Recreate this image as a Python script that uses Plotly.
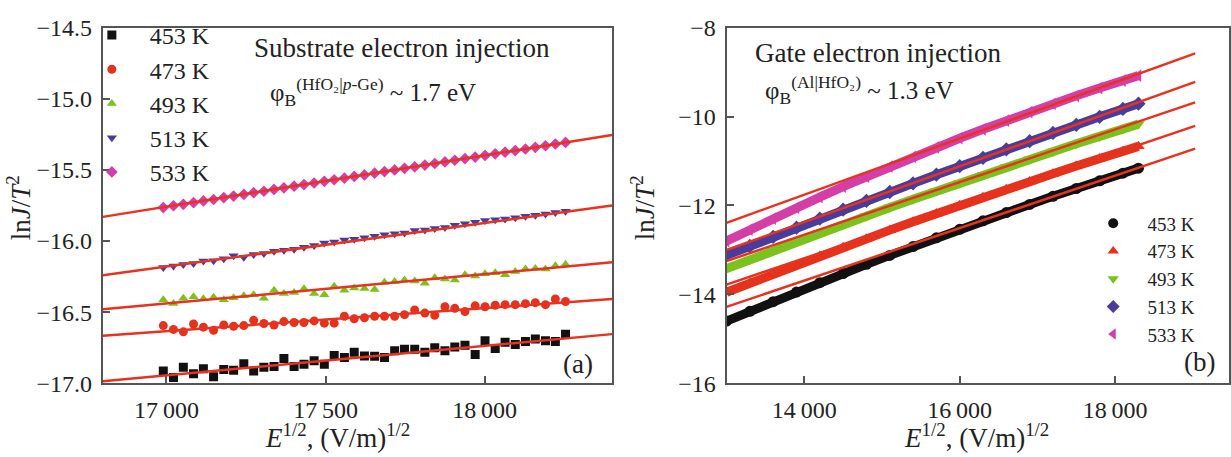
import plotly.graph_objects as go

W, H = 1231, 457

# ---------------- Panel (a): substrate electron injection ----------------
temps = ["453 K", "473 K", "493 K", "513 K", "533 K"]

left_x = [16990, 17022, 17053, 17085, 17116, 17148, 17180, 17211, 17243, 17274,
          17306, 17338, 17369, 17401, 17432, 17464, 17496, 17527, 17559, 17590,
          17622, 17654, 17685, 17717, 17748, 17780, 17812, 17843, 17875, 17906,
          17938, 17970, 18001, 18033, 18064, 18096, 18128, 18159, 18191, 18222, 18254]

left_453 = [-16.914, -16.958, -16.887, -16.932, -16.898, -16.954, -16.903, -16.907, -16.863, -16.914,
            -16.887, -16.881, -16.826, -16.881, -16.866, -16.841, -16.866, -16.804, -16.819, -16.782,
            -16.808, -16.810, -16.819, -16.771, -16.760, -16.760, -16.782, -16.749, -16.771, -16.744,
            -16.733, -16.797, -16.700, -16.755, -16.711, -16.727, -16.705, -16.689, -16.700, -16.705, -16.654]
left_473 = [-16.594, -16.621, -16.638, -16.583, -16.605, -16.627, -16.590, -16.599, -16.594, -16.557,
            -16.579, -16.590, -16.566, -16.572, -16.572, -16.561, -16.577, -16.577, -16.528, -16.546,
            -16.539, -16.528, -16.528, -16.528, -16.517, -16.484, -16.506, -16.522, -16.462, -16.473,
            -16.495, -16.455, -16.462, -16.451, -16.447, -16.447, -16.440, -16.433, -16.447, -16.407, -16.425]
left_493 = [-16.413, -16.439, -16.402, -16.391, -16.406, -16.395, -16.413, -16.399, -16.384, -16.377,
            -16.402, -16.346, -16.369, -16.362, -16.335, -16.369, -16.377, -16.318, -16.346, -16.329,
            -16.333, -16.340, -16.289, -16.285, -16.274, -16.280, -16.296, -16.258, -16.267, -16.274,
            -16.236, -16.245, -16.230, -16.223, -16.236, -16.214, -16.196, -16.192, -16.196, -16.174, -16.163]
left_513 = [-16.186, -16.175, -16.165, -16.158, -16.140, -16.138, -16.125, -16.103, -16.114, -16.094,
            -16.087, -16.072, -16.065, -16.058, -16.043, -16.032, -16.014, -16.006, -15.992, -15.988,
            -15.977, -15.966, -15.955, -15.948, -15.944, -15.926, -15.922, -15.911, -15.904, -15.889,
            -15.878, -15.867, -15.856, -15.850, -15.845, -15.836, -15.826, -15.818, -15.810, -15.800, -15.790]
left_533 = [-15.765, -15.752, -15.742, -15.730, -15.718, -15.708, -15.695, -15.684, -15.672, -15.660,
            -15.650, -15.637, -15.626, -15.614, -15.603, -15.592, -15.580, -15.569, -15.558, -15.546,
            -15.535, -15.523, -15.512, -15.500, -15.489, -15.478, -15.466, -15.455, -15.444, -15.432,
            -15.420, -15.410, -15.398, -15.387, -15.375, -15.364, -15.353, -15.341, -15.330, -15.318, -15.307]

left_fit_x = [16800, 18400]
left_fit_start = [-16.985, -16.665, -16.480, -16.241, -15.830]
left_fit_end = [-16.654, -16.407, -16.149, -15.750, -15.254]

left_xticks = [17000, 17500, 18000]
left_xticktext = ["17\u2009000", "17\u2009500", "18\u2009000"]
left_yticks = [-14.5, -15.0, -15.5, -16.0, -16.5, -17.0]
left_yticktext = ["\u221214.5", "\u221215.0", "\u221215.5", "\u221216.0", "\u221216.5", "\u221217.0"]

# ---------------- Panel (b): gate electron injection ----------------
right_x = [13000, 13300, 13600, 13900, 14200, 14500, 14800, 15100, 15400, 15700,
           16000, 16300, 16600, 16900, 17200, 17500, 17800, 18100, 18300]
right_453 = [-14.600, -14.379, -14.163, -13.948, -13.737, -13.530, -13.324, -13.122, -12.923, -12.728,
             -12.535, -12.345, -12.159, -11.976, -11.795, -11.618, -11.444, -11.273, -11.160]
right_473 = [-13.950, -13.743, -13.539, -13.337, -13.137, -12.941, -12.746, -12.554, -12.366, -12.179,
             -11.996, -11.814, -11.635, -11.459, -11.285, -11.114, -10.945, -10.779, -10.670]
right_493 = [-13.420, -13.217, -13.016, -12.817, -12.621, -12.427, -12.235, -12.046, -11.859, -11.674,
             -11.492, -11.312, -11.134, -10.959, -10.785, -10.614, -10.446, -10.280, -10.170]
right_513 = [-13.120, -12.911, -12.704, -12.499, -12.295, -12.094, -11.895, -11.697, -11.502, -11.308,
             -11.116, -10.927, -10.739, -10.553, -10.369, -10.187, -10.006, -9.828, -9.710]
right_533 = [-12.800, -12.544, -12.295, -12.050, -11.811, -11.577, -11.349, -11.125, -10.908, -10.695,
             -10.488, -10.287, -10.090, -9.900, -9.714, -9.533, -9.359, -9.190, -9.080]

right_fit_x = [13000, 19030]
right_fit_start = [-14.28, -13.78, -13.25, -13.00, -12.39]
right_fit_end = [-10.72, -10.21, -9.68, -9.22, -8.58]

right_xticks = [14000, 16000, 18000]
right_xticktext = ["14\u2009000", "16\u2009000", "18\u2009000"]
right_yticks = [-8, -10, -12, -14, -16]
right_yticktext = ["\u22128", "\u221210", "\u221212", "\u221214", "\u221216"]

colors = ["#111111", "#e5321d", "#7cc21e", "#4a3c9c", "#d43ea6"]
fit_color = "#e8321f"
left_symbols = ["square", "circle", "triangle-up", "triangle-down", "diamond"]
right_symbols = ["circle", "triangle-up", "triangle-down", "diamond", "triangle-left"]

FONT = "Liberation Serif"

fig = go.Figure()

left_series = [left_453, left_473, left_493, left_513, left_533]
for i, ys in enumerate(left_series):
    fig.add_trace(go.Scatter(
        x=left_x, y=ys, mode="markers", name="\u00a0\u00a0\u00a0" + temps[i],
        marker=dict(symbol=left_symbols[i], size=9, color=colors[i], line=dict(width=0)),
        xaxis="x", yaxis="y", legend="legend"))
for i in range(5):
    fig.add_trace(go.Scatter(
        x=left_fit_x, y=[left_fit_start[i], left_fit_end[i]], mode="lines",
        line=dict(color=fit_color, width=2.5), showlegend=False, hoverinfo="skip",
        xaxis="x", yaxis="y"))

right_series = [right_453, right_473, right_493, right_513, right_533]
for i, ys in enumerate(right_series):
    fig.add_trace(go.Scatter(
        x=right_x, y=ys, mode="lines+markers",
        line=dict(color=colors[i], width=9),
        marker=dict(symbol=right_symbols[i], size=11, color=colors[i]),
        showlegend=False, xaxis="x2", yaxis="y2"))
for i in range(5):
    fig.add_trace(go.Scatter(
        x=right_fit_x, y=[right_fit_start[i], right_fit_end[i]], mode="lines",
        line=dict(color=fit_color, width=2.5), showlegend=False, hoverinfo="skip",
        xaxis="x2", yaxis="y2"))
# legend entries for panel (b)
for i in range(5):
    fig.add_trace(go.Scatter(
        x=[None], y=[None], mode="markers", name="\u00a0\u00a0\u00a0" + temps[i],
        marker=dict(symbol=right_symbols[i], size=10, color=colors[i]),
        xaxis="x2", yaxis="y2", legend="legend2"))

ydom = [1 - 392.7 / H, 1 - 15.5 / H]
axis_common = dict(
    showline=True, linecolor="#555555", linewidth=2, mirror=True,
    ticks="inside", ticklen=7, tickwidth=1.5, tickcolor="#555555",
    showgrid=False, zeroline=False,
    tickfont=dict(family=FONT, size=24, color="#222222"),
    ticklabelstandoff=4,
)

fig.update_layout(
    width=W, height=H,
    margin=dict(l=0, r=0, t=0, b=0),
    paper_bgcolor="white", plot_bgcolor="white",
    font=dict(family=FONT, color="#222222"),
    xaxis=dict(domain=[103 / W, 613 / W], range=[16800, 18400], anchor="y",
               tickmode="array", tickvals=left_xticks, ticktext=left_xticktext, **axis_common),
    yaxis=dict(domain=ydom, range=[-17.0, -14.5], anchor="x",
               tickmode="array", tickvals=left_yticks, ticktext=left_yticktext, **axis_common),
    xaxis2=dict(domain=[727.7 / W, 1.0], range=[13000, 19465], anchor="y2",
                tickmode="array", tickvals=right_xticks, ticktext=right_xticktext, **axis_common),
    yaxis2=dict(domain=ydom, range=[-16, -8], anchor="x2",
                tickmode="array", tickvals=right_yticks, ticktext=right_yticktext, **axis_common),
    legend=dict(x=92 / W, y=1.0, xanchor="left", yanchor="top",
                bgcolor="rgba(0,0,0,0)", borderwidth=0, tracegroupgap=0,
                font=dict(family=FONT, size=24, color="#222222")),
    legend2=dict(x=1095 / W, y=1 - 203 / H, xanchor="left", yanchor="top",
                 bgcolor="rgba(0,0,0,0)", borderwidth=0, tracegroupgap=0,
                 font=dict(family=FONT, size=19, color="#222222")),
)

def ann(text, x, y, size=27, xanchor="left", angle=0):
    fig.add_annotation(text=text, x=x / W, y=1 - y / H, xref="paper", yref="paper",
                       xanchor=xanchor, yanchor="middle", showarrow=False, textangle=angle,
                       font=dict(family=FONT, size=size, color="#222222"))

ann("Substrate electron injection", 252, 37)
ann("\u03c6<sub>B</sub><sup>(HfO\u2082|<i>p</i>-Ge)</sup> ~ 1.7 eV", 268, 84, size=25)
ann("Gate electron injection", 754, 42)
ann("\u03c6<sub>B</sub><sup>(Al|HfO\u2082)</sup> ~ 1.3 eV", 764, 82, size=25)
ann("(a)", 596, 372, xanchor="right")
ann("(b)", 1219, 370, xanchor="right")
ann("ln<i>J</i>/<i>T</i><sup>2</sup>", 19, 206, xanchor="center", angle=-90)
ann("ln<i>J</i>/<i>T</i><sup>2</sup>", 644, 206, xanchor="center", angle=-90)
ann("<i>E</i><sup>1/2</sup>, (V/m)<sup>1/2</sup>", 338, 449, xanchor="center")
ann("<i>E</i><sup>1/2</sup>, (V/m)<sup>1/2</sup>", 978, 449, xanchor="center")

fig.write_html("out.html")
